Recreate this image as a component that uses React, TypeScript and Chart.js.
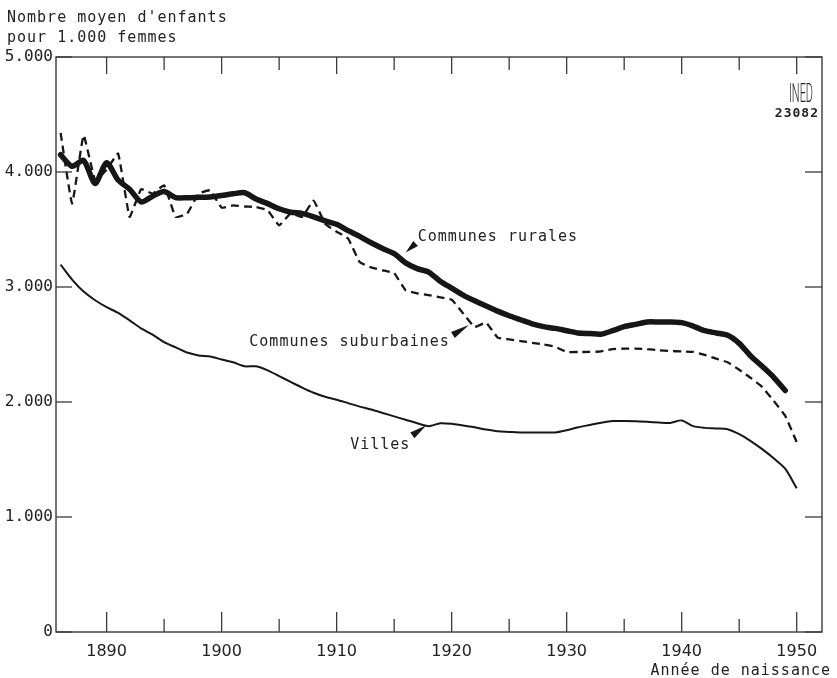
import React, { useEffect, useRef } from "react";
import { Chart, registerables } from "chart.js";

Chart.register(...registerables);

// ---------- data ----------
const years: number[] = Array.from({ length: 65 }, (_, i) => 1886 + i); // 1886..1950

const communesRurales: number[] = [
  4150, 4050, 4100, 3900, 4080, 3930, 3850, 3740, 3790, 3830,
  3777, 3777, 3780, 3783, 3795, 3810, 3820, 3765, 3725, 3680,
  3650, 3640, 3610, 3575, 3545, 3490, 3440, 3385, 3335, 3290,
  3210, 3160, 3130, 3050, 2990, 2930, 2880, 2835, 2790, 2750,
  2715, 2680, 2655, 2640, 2620, 2600, 2595, 2590, 2620, 2655,
  2675, 2696, 2696, 2696, 2690, 2660, 2620, 2600, 2580, 2510,
  2400, 2310, 2215, 2100,
]; // 1886..1949

const communesSuburbaines: number[] = [
  4340, 3725, 4320, 3930, 4020, 4160, 3610, 3850, 3812, 3884,
  3609, 3638, 3812, 3841, 3690, 3710, 3700, 3696, 3667, 3536,
  3640, 3609, 3750, 3550, 3480, 3421, 3217, 3170, 3145, 3120,
  2971, 2945, 2930, 2910, 2890, 2770, 2652, 2690, 2560, 2545,
  2530, 2515, 2500, 2480, 2435, 2435, 2435, 2440, 2460, 2464,
  2464, 2460, 2450, 2443, 2440, 2436, 2410, 2377, 2345, 2280,
  2210, 2130, 2010, 1880, 1652,
]; // 1886..1950

const villes: number[] = [
  3195, 3065, 2960, 2885, 2825, 2775, 2710, 2640, 2585, 2520,
  2475, 2430, 2405, 2395, 2370, 2345, 2310, 2310, 2275, 2225,
  2175, 2125, 2080, 2045, 2020, 1990, 1960, 1935, 1905, 1875,
  1845, 1815, 1790, 1815, 1810, 1795, 1780, 1760, 1745, 1740,
  1735, 1735, 1735, 1735, 1755, 1780, 1800, 1820, 1835, 1835,
  1833, 1828, 1822, 1818, 1840, 1790, 1775, 1770, 1763, 1720,
  1660, 1590, 1510, 1420, 1250,
]; // 1886..1950

const xMajorTicks: number[] = [1890, 1900, 1910, 1920, 1930, 1940, 1950];
const xMinorTicks: number[] = [1895, 1905, 1915, 1925, 1935, 1945];
const yTicks: number[] = [0, 1000, 2000, 3000, 4000, 5000];
const yTickLabels: string[] = ["0", "1.000", "2.000", "3.000", "4.000", "5.000"];

const yTitleLines: string[] = ["Nombre moyen d'enfants", "pour 1.000 femmes"];
const xTitle = "Année de naissance";

// label anchors: point on the curve (year, value) that the wedge touches
const labels = [
  { text: "Communes rurales", year: 1916, value: 3300, align: "left", dx: 12, dy: -12, bx: 10, by: -9 },
  { text: "Communes suburbaines", year: 1921.5, value: 2670, align: "right", dx: -19, dy: 21, bx: -16, by: 10 },
  { text: "Villes", year: 1917.8, value: 1797, align: "right", dx: -16, dy: 24, bx: -14, by: 10 },
];

const INK = "#161616";
const MONO = "'DejaVu Sans Mono', 'Liberation Mono', monospace";

const toPoints = (vals: number[]) => vals.map((v, i) => ({ x: years[i], y: v }));

const framePlugin = {
  id: "frameTicks",
  afterDatasetsDraw(chart: any) {
    const { ctx, chartArea: a, scales } = chart;
    const x = scales.x;
    const y = scales.y;
    ctx.save();
    ctx.strokeStyle = "#3a3a3a";
    ctx.lineWidth = 1.4;
    ctx.strokeRect(a.left, a.top, a.right - a.left, a.bottom - a.top);
    const seg = (x1: number, y1: number, x2: number, y2: number) => {
      ctx.beginPath();
      ctx.moveTo(x1, y1);
      ctx.lineTo(x2, y2);
      ctx.stroke();
    };
    ctx.lineWidth = 1.3;
    for (const v of xMajorTicks) {
      const px = x.getPixelForValue(v);
      seg(px, a.bottom, px, a.bottom - 20);
      seg(px, a.top, px, a.top + 17);
    }
    for (const v of xMinorTicks) {
      const px = x.getPixelForValue(v);
      seg(px, a.bottom, px, a.bottom - 13);
      seg(px, a.top, px, a.top + 13);
    }
    for (const v of yTicks) {
      const py = y.getPixelForValue(v);
      seg(a.left, py, a.left + 16, py);
      seg(a.right, py, a.right - 17, py);
    }
    ctx.restore();
  },
  afterDraw(chart: any) {
    const { ctx, chartArea: a, scales } = chart;
    const x = scales.x;
    const y = scales.y;
    ctx.save();
    ctx.fillStyle = "#222";
    ctx.textBaseline = "alphabetic";
    // axis titles
    ctx.font = `15px ${MONO}`;
    (ctx as any).letterSpacing = "1px";
    ctx.textAlign = "left";
    ctx.fillText(yTitleLines[0], 7, 22);
    ctx.fillText(yTitleLines[1], 7, 41.5);
    ctx.textAlign = "right";
    ctx.fillText(xTitle, 831, 675);

    // curve labels with wedges
    (ctx as any).letterSpacing = "1px";
    for (const l of labels) {
      const tx = x.getPixelForValue(l.year);
      const ty = y.getPixelForValue(l.value);
      ctx.textAlign = l.align as CanvasTextAlign;
      ctx.fillText(l.text, tx + l.dx, ty + l.dy);
      const bx = tx + l.bx;
      const by = ty + l.by;
      const len = Math.hypot(bx - tx, by - ty);
      const nx = -(by - ty) / len;
      const ny = (bx - tx) / len;
      const w = 3.5;
      ctx.fillStyle = INK;
      ctx.beginPath();
      ctx.moveTo(tx, ty);
      ctx.lineTo(bx + nx * w, by + ny * w);
      ctx.lineTo(bx - nx * w, by - ny * w);
      ctx.closePath();
      ctx.fill();
      ctx.fillStyle = "#222";
    }

    // INED mark
    (ctx as any).letterSpacing = "0px";
    ctx.save();
    ctx.translate(a.right - 9, 102);
    ctx.scale(0.42, 1);
    ctx.font = "300 26px Roboto, 'DejaVu Sans', sans-serif";
    ctx.textAlign = "right";
    ctx.fillText("INED", 0, 0);
    ctx.restore();
    ctx.font = `bold 13px ${MONO}`;
    (ctx as any).letterSpacing = "1px";
    ctx.textAlign = "right";
    ctx.fillText("23082", a.right - 3, 117);
    ctx.restore();
  },
};

export default function App() {
  const canvasRef = useRef<HTMLCanvasElement | null>(null);

  useEffect(() => {
    if (!canvasRef.current) return;
    const chart = new Chart(canvasRef.current, {
      type: "line",
      data: {
        datasets: [
          {
            label: "Communes rurales",
            data: toPoints(communesRurales),
            borderColor: INK,
            borderWidth: 5.5,
            pointRadius: 0,
            tension: 0.25,
            borderCapStyle: "round",
            borderJoinStyle: "round",
          },
          {
            label: "Communes suburbaines",
            data: toPoints(communesSuburbaines),
            borderColor: INK,
            borderWidth: 2.3,
            borderDash: [8, 5],
            pointRadius: 0,
            tension: 0.1,
          },
          {
            label: "Villes",
            data: toPoints(villes),
            borderColor: INK,
            borderWidth: 2,
            pointRadius: 0,
            tension: 0.25,
            borderJoinStyle: "round",
          },
        ],
      },
      options: {
        animation: false,
        responsive: true,
        maintainAspectRatio: false,
        layout: { padding: { left: 0, right: 15, top: 57, bottom: 0 } },
        plugins: {
          legend: { display: false },
          tooltip: { enabled: false },
          title: { display: false },
        },
        scales: {
          x: {
            type: "linear",
            min: 1885.6,
            max: 1952.2,
            afterBuildTicks: (s: any) => {
              s.ticks = xMajorTicks.map((v) => ({ value: v }));
            },
            afterFit: (s: any) => {
              s.height = 46;
            },
            ticks: {
              autoSkip: false,
              maxRotation: 0,
              padding: 10,
              color: "#222",
              font: { family: "'DejaVu Sans', sans-serif", size: 16 },
              callback: (v: any) => String(v),
            },
            grid: { display: false, drawTicks: false },
            border: { display: false },
          },
          y: {
            type: "linear",
            min: 0,
            max: 5000,
            afterBuildTicks: (s: any) => {
              s.ticks = yTicks.map((v) => ({ value: v }));
            },
            afterFit: (s: any) => {
              s.width = 56;
            },
            ticks: {
              padding: 3,
              color: "#222",
              font: { family: MONO, size: 16 },
              callback: (_v: any, i: number) => yTickLabels[i],
            },
            grid: { display: false, drawTicks: false },
            border: { display: false },
          },
        },
      },
      plugins: [framePlugin],
    });
    return () => chart.destroy();
  }, []);

  return (
    <div style={{ position: "fixed", left: 0, top: 0, width: 837, height: 678, background: "#fff" }}>
      <canvas ref={canvasRef} />
    </div>
  );
}
